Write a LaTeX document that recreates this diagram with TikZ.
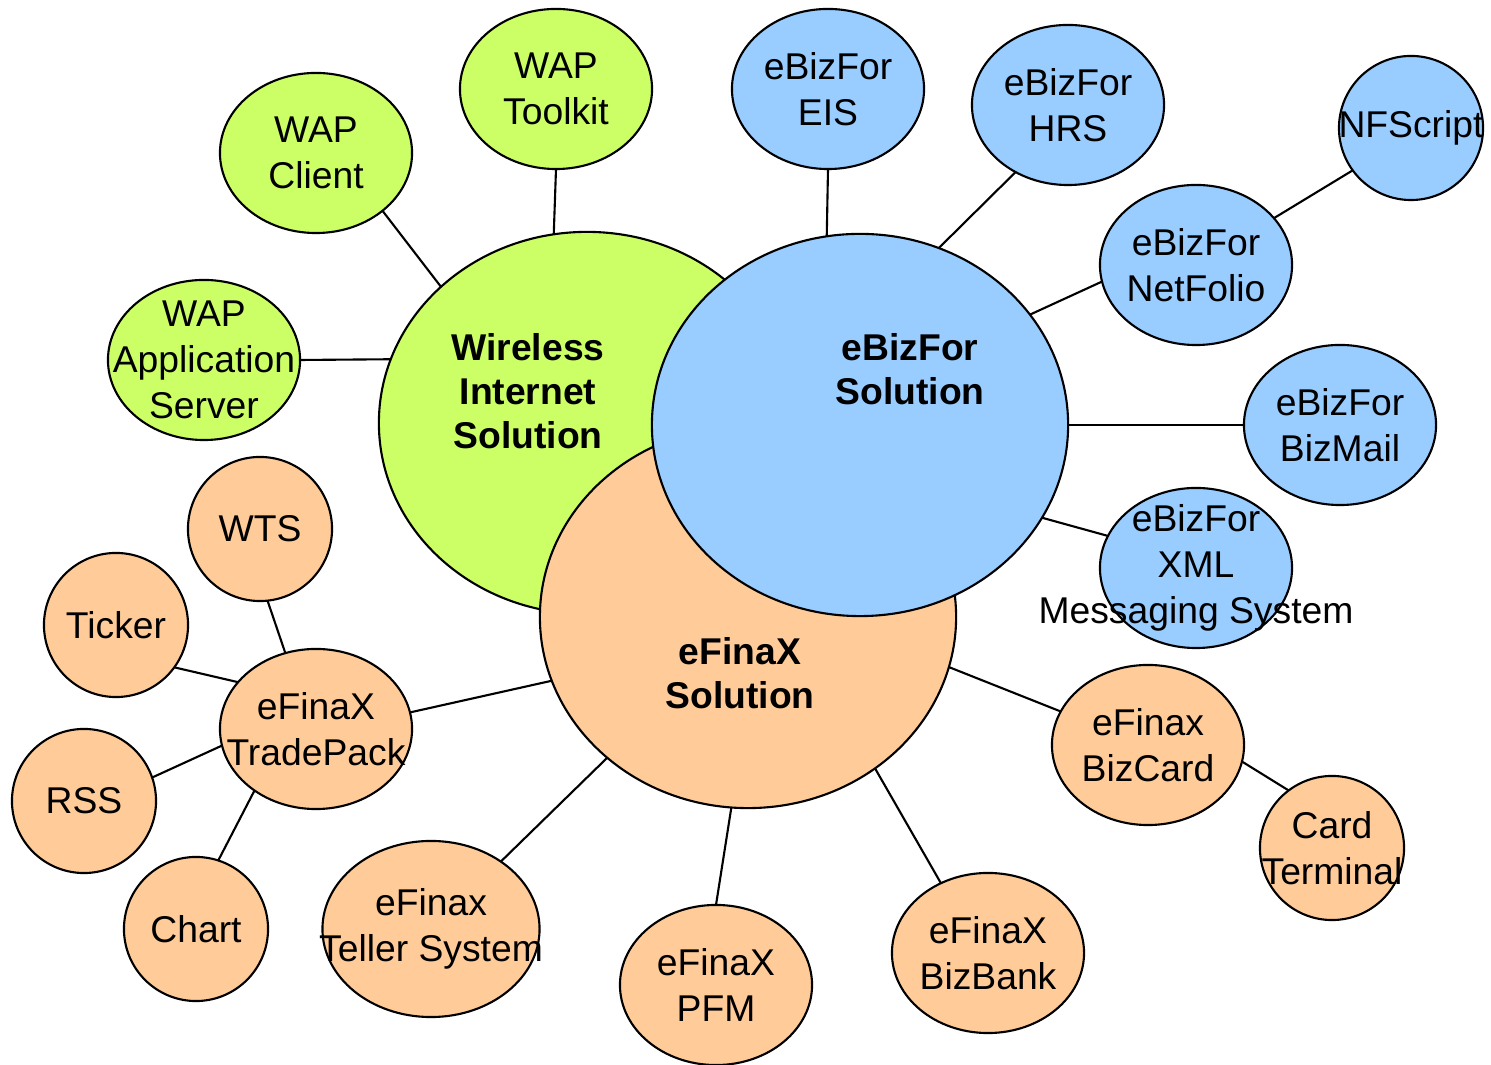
\documentclass[tikz,border=0pt]{standalone}
\usepackage{fontspec}
\setmainfont{Liberation Sans}
\usetikzlibrary{shapes.geometric}
\definecolor{wapgreen}{RGB}{204,255,102}
\definecolor{ebizblue}{RGB}{153,204,255}
\definecolor{finaorange}{RGB}{255,204,153}

\begin{document}
\begin{tikzpicture}[x=0.01cm, y=-0.01cm, line width=0.6pt,
    every node/.style={font=\fontsize{10.6}{13}\selectfont},
    hub/.style={ellipse, draw, minimum width=4.16cm, minimum height=3.82cm, inner sep=0pt, outer sep=0pt},
    leaf/.style={ellipse, draw, minimum width=1.92cm, minimum height=1.6cm, inner sep=0pt, outer sep=0pt, label={[align=center]center:#1}},
    dot/.style={minimum width=1.44cm, minimum height=1.44cm},
    hubtext/.style={align=center, font=\fontsize{10.6}{12.6}\selectfont\bfseries}]

    \useasboundingbox (0,0) rectangle (1491,1065);

    % Big circles
    \node[hub, fill=wapgreen] (wireless) at (587,423) {};
    \node[hub, fill=finaorange] (efinax) at (748,617) {};
    \node[hub, fill=ebizblue] (ebiz) at (860,425) {};
    \node[hubtext] (wirelesstext) at (528,391) {Wireless\\Internet\\Solution};
    \node[hubtext] (ebiztext) at (910,369) {eBizFor\\Solution};
    \node[hubtext] (efinaxtext) at (740,673) {eFinaX\\Solution};

    % Wireless side
    \node[leaf={WAP\\Toolkit}, fill=wapgreen] (toolkit) at (556,89) {};
    \node[leaf={WAP\\Client}, fill=wapgreen] (client) at (316,153) {};
    \node[leaf={WAP\\Application\\Server}, fill=wapgreen] (appserver) at (204,360) {};

    % eBizFor side
    \node[leaf={eBizFor\\EIS}, fill=ebizblue] (eis) at (828,89) {};
    \node[leaf={eBizFor\\HRS}, fill=ebizblue] (hrs) at (1068,105) {};
    \node[leaf=NFScript, dot, fill=ebizblue] (nfscript) at (1411,128) {};
    \node[leaf={eBizFor\\NetFolio}, fill=ebizblue] (netfolio) at (1196,265) {};
    \node[leaf={eBizFor\\BizMail}, fill=ebizblue] (bizmail) at (1340,425) {};
    \node[leaf={eBizFor\\XML\\Messaging System}, fill=ebizblue] (xml) at (1196,568) {};

    % eFinaX side
    \node[leaf={eFinax\\BizCard}, fill=finaorange] (bizcard) at (1148,745) {};
    \node[leaf={Card\\Terminal}, dot, fill=finaorange] (card) at (1332,848) {};
    \node[leaf={eFinaX\\BizBank}, fill=finaorange] (bizbank) at (988,953) {};
    \node[leaf={eFinaX\\PFM}, fill=finaorange] (pfm) at (716,985) {};
    \node[leaf={eFinax\\Teller System}, minimum width=2.17cm, minimum height=1.76cm, fill=finaorange] (teller) at (431,929) {};
    \node[leaf={eFinaX\\TradePack}, fill=finaorange] (tradepack) at (316,729) {};
    \node[leaf=WTS, dot, fill=finaorange] (wts) at (260,529) {};
    \node[leaf=Ticker, dot, fill=finaorange] (ticker) at (116,625) {};
    \node[leaf=RSS, dot, fill=finaorange] (rss) at (84,801) {};
    \node[leaf=Chart, dot, fill=finaorange] (chart) at (196,929) {};

    % Connectors
    \draw (toolkit.south) -- (wireless.100);
    \draw (client.-41) -- (wireless.137);
    \draw (appserver.east) -- (wireless.162);
    \draw (eis.south) -- (ebiz.100.5);
    \draw (hrs.232) -- (ebiz.66);
    \draw (netfolio.190) -- (ebiz.33);
    \draw (nfscript.216) -- (netfolio.31);
    \draw (ebiz.east) -- (bizmail.west);
    \draw (ebiz.-27) -- (xml.160);
    \draw (efinax.-14) -- (bizcard.159);
    \draw (bizcard.-10) -- (card.127);
    \draw (efinax.-50) -- (bizbank.124);
    \draw (efinax.265) -- (pfm.north);
    \draw (efinax.225) -- (teller.44);
    \draw (efinax.198) -- (tradepack.10);
    \draw (wts.-84) -- (tradepack.112);
    \draw (ticker.-36) -- (tradepack.149);
    \draw (rss.19) -- (tradepack.190);
    \draw (chart.72) -- (tradepack.225);

\end{tikzpicture}
\end{document}
